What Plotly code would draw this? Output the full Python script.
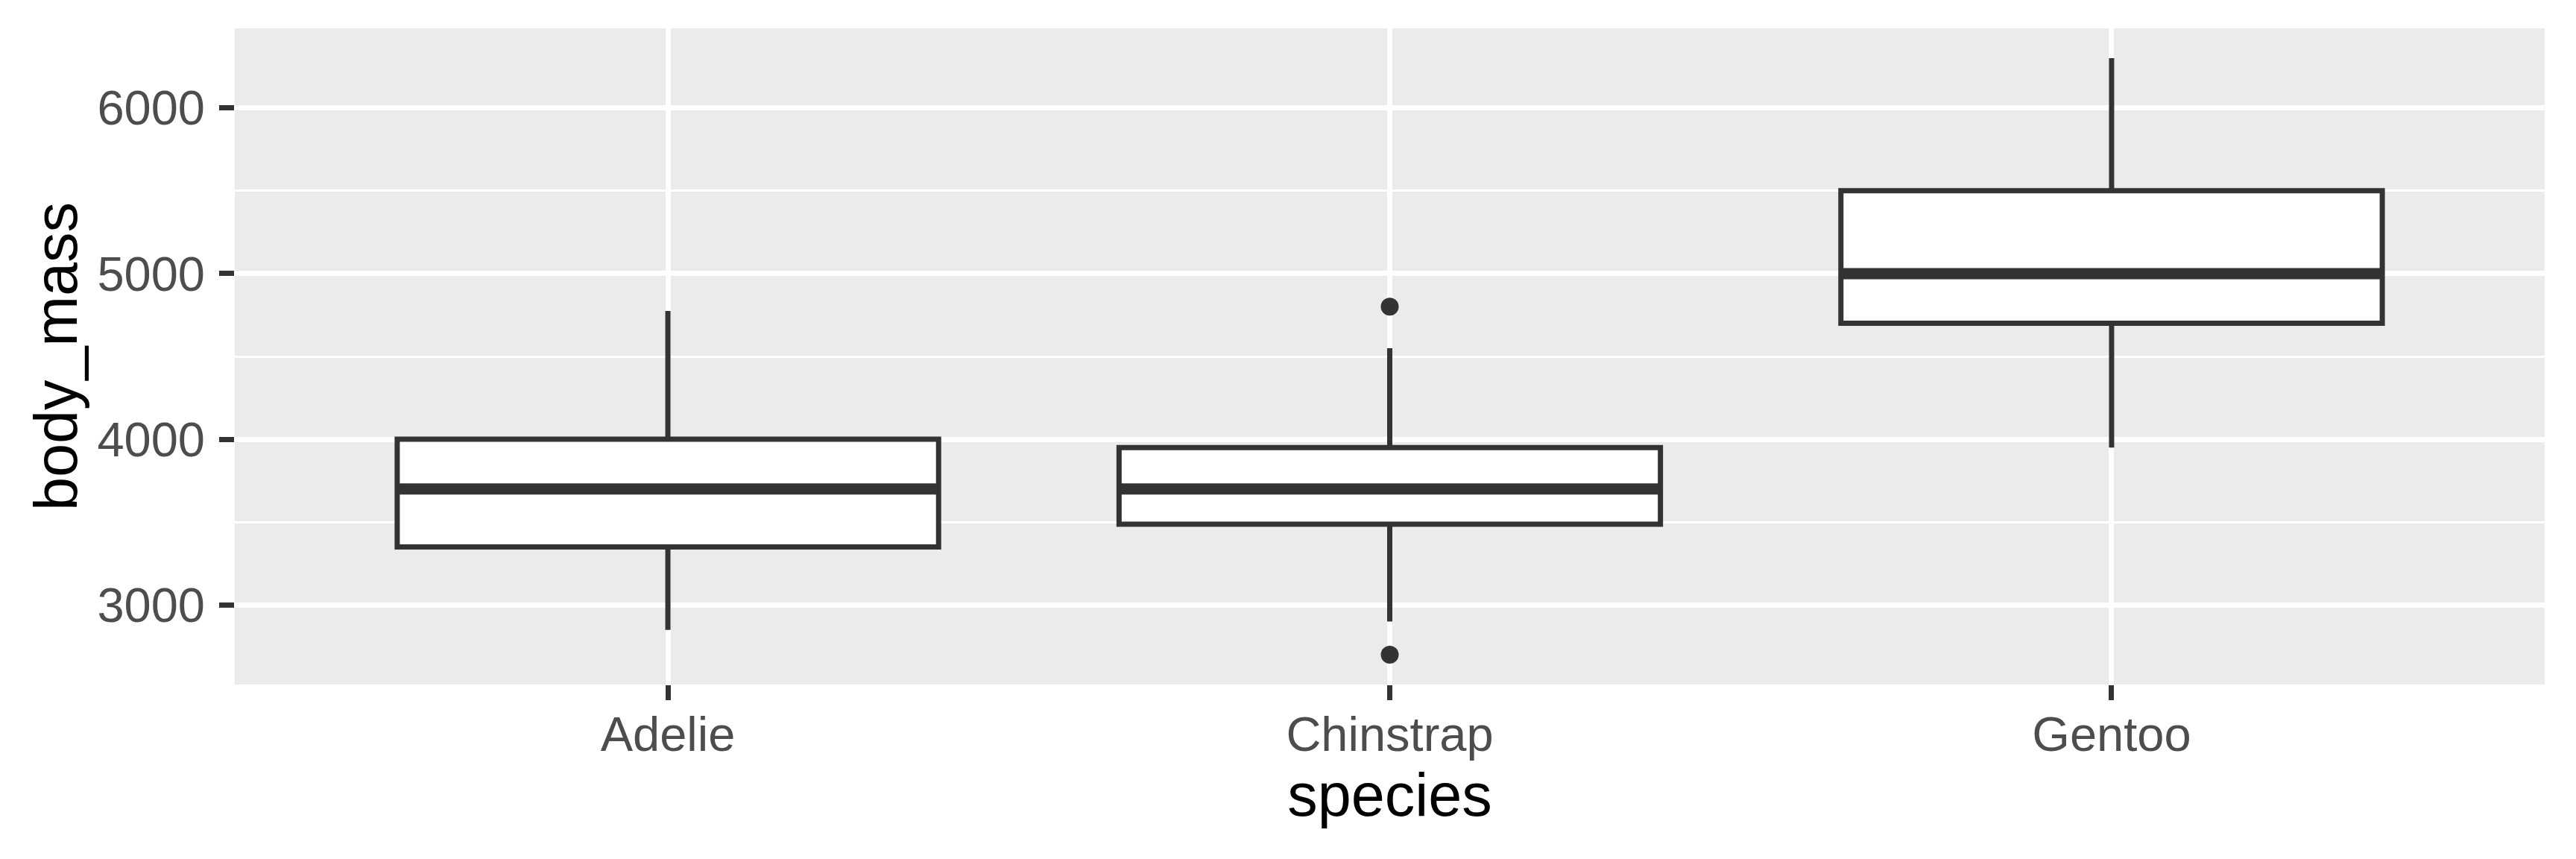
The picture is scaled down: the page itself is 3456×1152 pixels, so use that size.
import plotly.graph_objects as go

# Penguin body mass summary
species = ["Adelie", "Chinstrap", "Gentoo"]
q1 = [3350, 3487.5, 4700]
median = [3700, 3700, 5000]
q3 = [4000, 3950, 5500]
lower_whisker = [2850, 2900, 3950]
upper_whisker = [4775, 4550, 6300]

outlier_species = ["Chinstrap", "Chinstrap"]
outlier_mass = [2700, 4800]

y_tickvals = [3000, 4000, 5000, 6000]

BOX_WIDTH = 0.75
DARK = "#333333"

pos = {s: i for i, s in enumerate(species)}
xpos = [pos[s] for s in species]

fig = go.Figure()

# Boxes from precomputed statistics
fig.add_trace(
    go.Box(
        x=xpos,
        q1=q1,
        median=median,
        q3=q3,
        lowerfence=lower_whisker,
        upperfence=upper_whisker,
        width=BOX_WIDTH,
        whiskerwidth=0,
        fillcolor="white",
        line=dict(color=DARK, width=7),
        boxpoints=False,
        hoverinfo="skip",
        showlegend=False
    )
)

# Thicker median line, as in ggplot
med_x, med_y = [], []
for i, m in zip(xpos, median):
    med_x += [i - BOX_WIDTH / 2, i + BOX_WIDTH / 2, None]
    med_y += [m, m, None]
fig.add_trace(
    go.Scatter(
        x=med_x,
        y=med_y,
        mode="lines",
        line=dict(color=DARK, width=15),
        hoverinfo="skip",
        showlegend=False
    )
)

# Outliers
fig.add_trace(
    go.Scatter(
        x=[pos[s] for s in outlier_species],
        y=outlier_mass,
        mode="markers",
        marker=dict(color=DARK, size=24, line=dict(width=0)),
        hoverinfo="skip",
        showlegend=False
    )
)

# page body has an 8px margin, so the figure is a little smaller
fig.update_layout(
    width=3448,
    height=1144,
    paper_bgcolor="white",
    plot_bgcolor="#EBEBEB",
    font=dict(family="Liberation Sans, Arial, sans-serif", color="black"),
    margin=dict(l=307, r=42, t=30, b=234, autoexpand=False),
    xaxis=dict(
        range=[-0.6, 2.6],
        tickmode="array",
        tickvals=xpos,
        ticktext=species,
        showgrid=True,
        gridcolor="white",
        gridwidth=7,
        zeroline=False,
        showline=False,
        ticks="outside",
        ticklen=20,
        tickwidth=7,
        tickcolor=DARK,
        ticklabelstandoff=-10,
        tickfont=dict(size=65, color="#4D4D4D"),
        title=dict(text="species", font=dict(size=81, color="black"),
                   standoff=10),
        automargin=False
    ),
    yaxis=dict(
        range=[2520, 6480],
        tickmode="array",
        tickvals=y_tickvals,
        showgrid=True,
        gridcolor="white",
        gridwidth=7,
        minor=dict(dtick=500, tick0=3500, showgrid=True, gridcolor="white",
                   gridwidth=3, ticks=""),
        zeroline=False,
        showline=False,
        ticks="outside",
        ticklen=20,
        tickwidth=7,
        tickcolor=DARK,
        ticklabelstandoff=6,
        tickfont=dict(size=65, color="#4D4D4D"),
        title=dict(text="body_mass", font=dict(size=81, color="black"),
                   standoff=0),
        automargin=False
    )
)

fig.write_html("out.html")
